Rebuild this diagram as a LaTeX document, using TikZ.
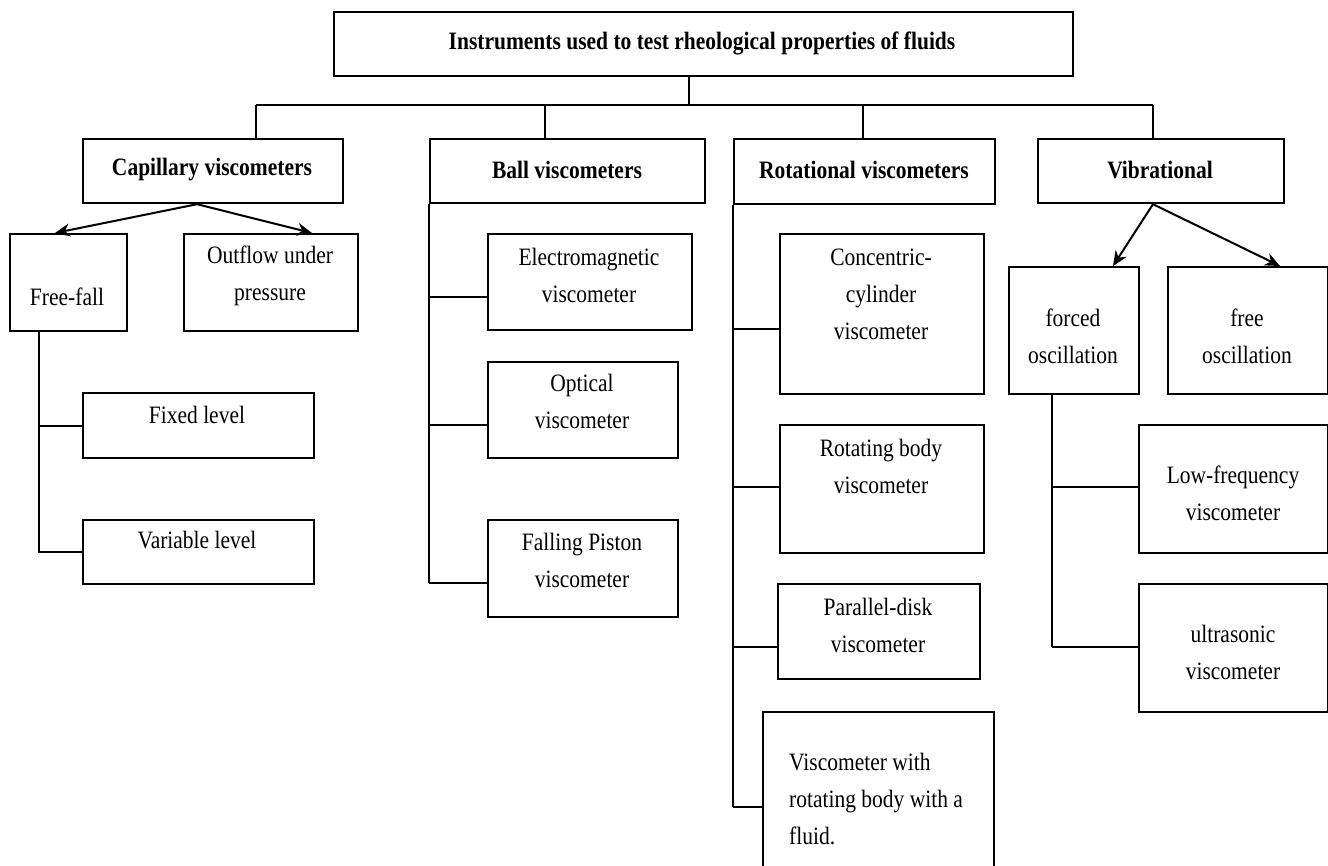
\documentclass[tikz,border=0pt]{standalone}
\usepackage{fontspec}
\setmainfont{Liberation Serif}[FakeStretch=0.86]
\usetikzlibrary{arrows.meta,calc}
\newcommand\mybox[5]{\node[box, minimum width={#4-#2}, minimum height={#5-#3}] (#1) at (#2,#3) {};}
\begin{document}
\begin{tikzpicture}[x=1pt,y=-1pt,
  box/.style={draw, line width=2.2pt, inner sep=0pt, anchor=north west},
  txt/.style={font=\fontsize{25}{37}\selectfont, align=center, inner sep=0pt},
  btxt/.style={txt, font=\bfseries\fontsize{25}{37}\selectfont},
  ln/.style={line width=2pt},
  arr/.style={line width=2pt, -{Stealth[length=15pt,width=13pt]}}]
\clip (0,0) rectangle (1328,865);
\fill[white] (0,0) rectangle (1328,865);
% boxes
\mybox{title}{333}{11}{1072}{75}
\mybox{cap}{82}{138}{342}{202}
\mybox{ball}{429}{138}{704}{202}
\mybox{rot}{733}{138}{994}{203}
\mybox{vib}{1037}{138}{1283}{202}
\mybox{ff}{9}{233}{126}{330}
\mybox{out}{183}{233}{357}{330}
\mybox{fix}{82}{392}{313}{457}
\mybox{var}{82}{519}{313}{583}
\mybox{em}{487}{233}{691}{329}
\mybox{opt}{487}{361}{677}{457}
\mybox{fp}{487}{519}{677}{616}
\mybox{con}{779}{233}{983}{393}
\mybox{rb}{779}{424}{983}{552}
\mybox{pd}{777}{583}{979}{678}
\mybox{vw}{762}{711}{993}{880}
\mybox{fo}{1008}{266}{1138}{393}
\mybox{fr}{1167}{266}{1327}{393}
\mybox{lf}{1138}{424}{1327}{552}
\mybox{us}{1138}{583}{1327}{711}
% texts
\node[btxt] (titleT) at (702,43) {Instruments used to test rheological properties of fluids};
\node[btxt] (capT) at (212,170) {Capillary viscometers};
\node[btxt] (ballT) at (567,170) {Ball viscometers};
\node[btxt] (rotT) at (864,170) {Rotational viscometers};
\node[btxt] (vibT) at (1160,170) {Vibrational};
\node[txt] (ffT) at (67,297) {Free-fall};
\node[txt] (outT) at (270,276) {Outflow under\\pressure};
\node[txt] (fixT) at (197,415) {Fixed level};
\node[txt] (varT) at (197,540) {Variable level};
\node[txt] (emT) at (589,275) {Electromagnetic\\viscometer};
\node[txt] (optT) at (582,401) {Optical\\viscometer};
\node[txt] (fpT) at (582,560) {Falling Piston\\viscometer};
\node[txt] (conT) at (881,294) {Concentric-\\cylinder\\viscometer};
\node[txt] (rbT) at (881,466) {Rotating body\\viscometer};
\node[txt] (pdT) at (878,625) {Parallel-disk\\viscometer};
\node[txt, align=left, anchor=west] (vwT) at (789,799) {Viscometer with\\rotating body with a\\fluid.};
\node[txt] (foT) at (1073,336) {forced\\oscillation};
\node[txt] (frT) at (1247,336) {free\\oscillation};
\node[txt] (lfT) at (1233,493) {Low-frequency\\viscometer};
\node[txt] (usT) at (1233,652) {ultrasonic\\viscometer};
% main tree
\coordinate (trk) at (689,105);
\coordinate (d1) at (256,105);
\coordinate (d2) at (545,105);
\coordinate (d3) at (863,105);
\coordinate (d4) at (1153,105);
\draw[ln] (title.south -| trk) -- (trk);
\draw[ln] (d1) -- (d4);
\draw[ln] (d1) -- (d1 |- cap.north);
\draw[ln] (d2) -- (d2 |- ball.north);
\draw[ln] (d3) -- (d3 |- rot.north);
\draw[ln] (d4) -- (d4 |- vib.north);
% capillary arrows
\coordinate (capo) at ($(cap.south west)+(115,0)$);
\draw[arr] (capo) -- ($(ff.north west)+(46,0)$);
\draw[arr] (capo) -- ($(out.north west)+(129,0)$);
% free-fall tree
\coordinate (fj) at ($(ff.south west)+(30,0)$);
\draw[ln] (fj) |- (var.west);
\draw[ln] (fj |- fix.west) -- (fix.west);
% ball tree
\coordinate (bj1) at (429,297);
\coordinate (bj2) at (429,425);
\coordinate (bj3) at (429,583);
\draw[ln] (ball.south west) -- (bj3);
\draw[ln] (bj1) -- (bj1 -| em.west);
\draw[ln] (bj2) -- (bj2 -| opt.west);
\draw[ln] (bj3) -- (bj3 -| fp.west);
% rotational tree
\coordinate (rj1) at (733,329);
\coordinate (rj2) at (733,487);
\coordinate (rj3) at (733,647);
\coordinate (rj4) at (733,807);
\draw[ln] (rot.south west) -- (rj4);
\draw[ln] (rj1) -- (rj1 -| con.west);
\draw[ln] (rj2) -- (rj2 -| rb.west);
\draw[ln] (rj3) -- (rj3 -| pd.west);
\draw[ln] (rj4) -- (rj4 -| vw.west);
% vibrational arrows
\coordinate (vibo) at ($(vib.south west)+(116,0)$);
\draw[arr] (vibo) -- ($(fo.north west)+(105,0)$);
\draw[arr] (vibo) -- ($(fr.north west)+(113,0)$);
% forced tree
\coordinate (vj1) at (1052,487);
\coordinate (vj2) at (1052,647);
\draw[ln] (vj1 |- fo.south) -- (vj2);
\draw[ln] (vj1) -- (vj1 -| lf.west);
\draw[ln] (vj2) -- (vj2 -| us.west);
\end{tikzpicture}
\end{document}
